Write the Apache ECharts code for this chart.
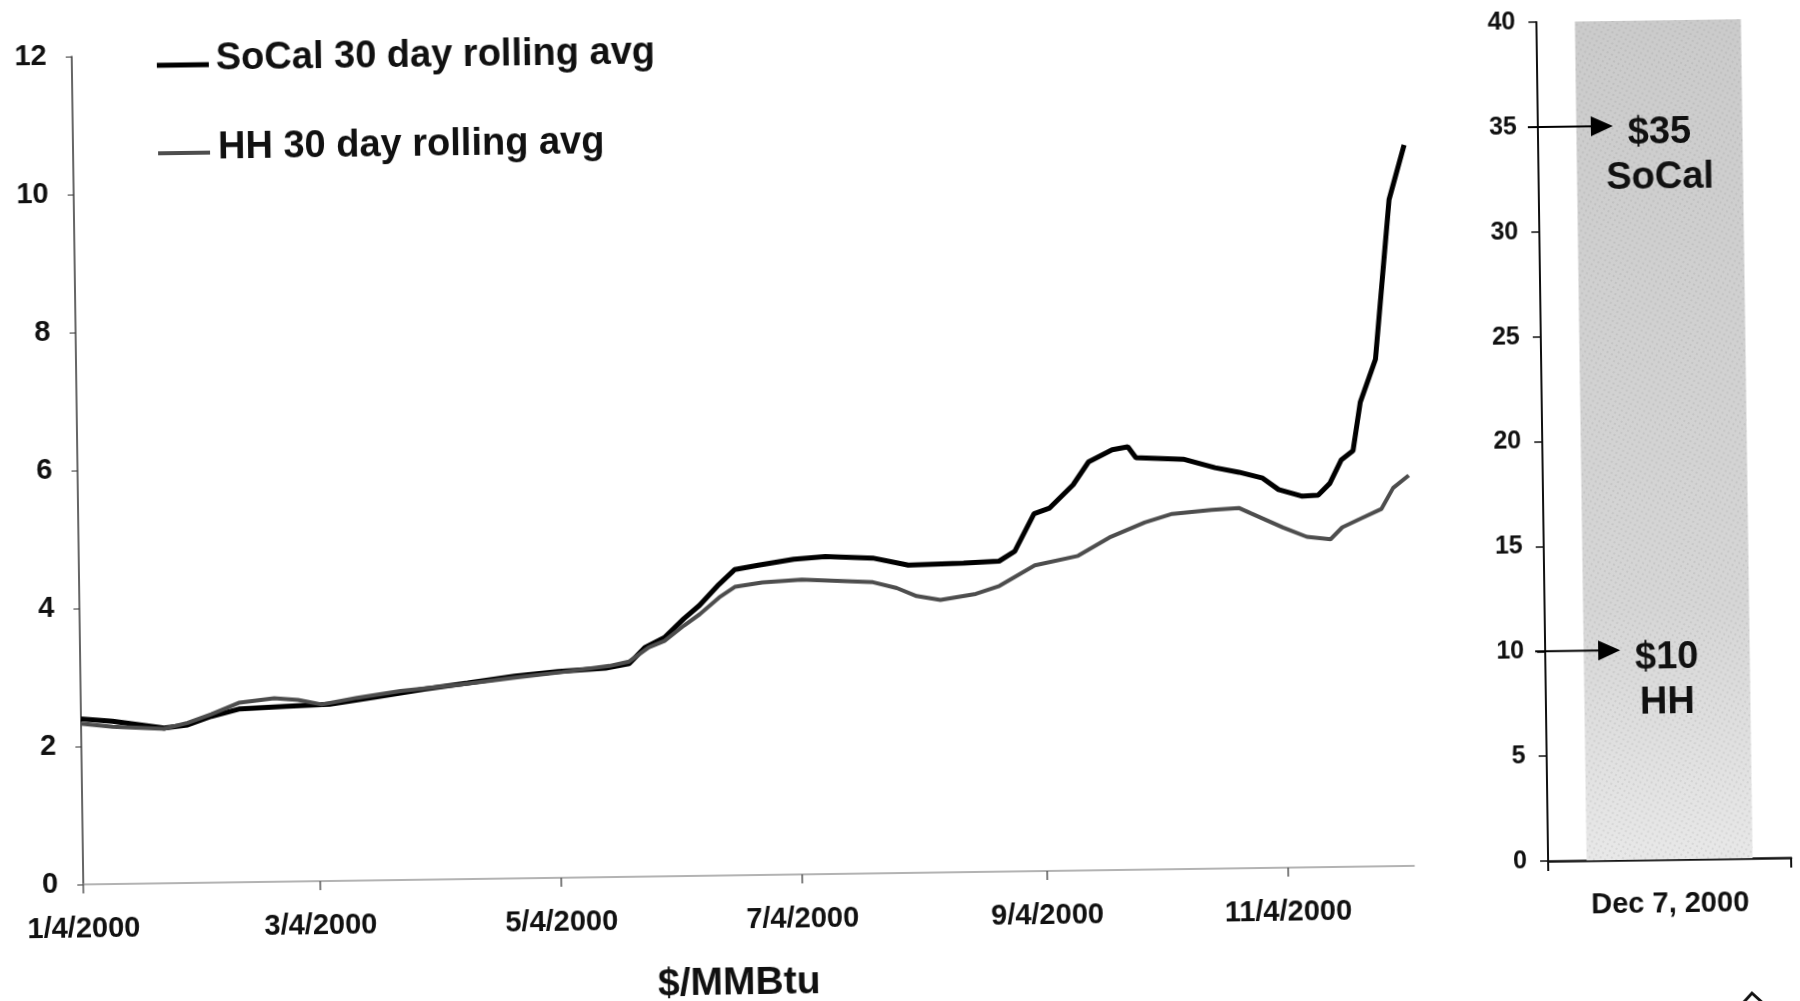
<!DOCTYPE html>
<html>
<head>
<meta charset="utf-8">
<title>SoCal vs HH 30 day rolling avg</title>
<script src="https://cdn.jsdelivr.net/npm/echarts@6/dist/echarts.min.js"></script>
<style>
  html, body { margin: 0; padding: 0; background: #fff; overflow: hidden; }
  /* the source page is a slightly tilted scan, so the whole drawing is turned a little */
  #chart {
    position: absolute; left: 0; top: 0;
    width: 1800px; height: 1030px;
    transform-origin: 900px 500px;
    transform: rotate(-0.8deg);
  }
</style>
</head>
<body>
<div id="chart"></div>
<script>
// SoCal 30 day rolling avg ($/MMBtu)
var socalDates = ['2000-01-04', '2000-01-12', '2000-01-25', '2000-01-31', '2000-02-06', '2000-02-13',
    '2000-02-25', '2000-03-07', '2000-03-19', '2000-03-31', '2000-04-11', '2000-04-23', '2000-05-04',
    '2000-05-16', '2000-05-22', '2000-05-26', '2000-05-31', '2000-06-05', '2000-06-09', '2000-06-14',
    '2000-06-18', '2000-06-24', '2000-07-03', '2000-07-11', '2000-07-23', '2000-08-01', '2000-08-15',
    '2000-08-24', '2000-08-28', '2000-09-02', '2000-09-06', '2000-09-12', '2000-09-16', '2000-09-22',
    '2000-09-26', '2000-09-28', '2000-10-10', '2000-10-18', '2000-10-24', '2000-10-30', '2000-11-03',
    '2000-11-09', '2000-11-13', '2000-11-16', '2000-11-19', '2000-11-22', '2000-11-24', '2000-11-28',
    '2000-12-02', '2000-12-06'];
var socalValues = [2.40, 2.36, 2.25, 2.29, 2.41, 2.51,
    2.54, 2.56, 2.66, 2.76, 2.84, 2.93, 2.99,
    3.03, 3.09, 3.32, 3.46, 3.73, 3.92, 4.22,
    4.43, 4.49, 4.57, 4.60, 4.57, 4.46, 4.48,
    4.50, 4.64, 5.18, 5.26, 5.59, 5.92, 6.09,
    6.13, 5.97, 5.94, 5.81, 5.74, 5.65, 5.48,
    5.38, 5.39, 5.56, 5.90, 6.03, 6.73, 7.35,
    9.66, 10.45];

// HH 30 day rolling avg ($/MMBtu)
var hhDates = ['2000-01-04', '2000-01-12', '2000-01-25', '2000-01-31', '2000-02-06', '2000-02-13',
    '2000-02-22', '2000-02-28', '2000-03-05', '2000-03-14', '2000-03-25', '2000-04-09', '2000-04-23',
    '2000-05-05', '2000-05-17', '2000-05-22', '2000-05-27', '2000-05-31', '2000-06-05', '2000-06-09',
    '2000-06-14', '2000-06-18', '2000-06-25', '2000-07-05', '2000-07-23', '2000-07-29', '2000-08-03',
    '2000-08-09', '2000-08-18', '2000-08-24', '2000-09-02', '2000-09-13', '2000-09-21', '2000-09-30',
    '2000-10-07', '2000-10-17', '2000-10-24', '2000-10-27', '2000-11-04', '2000-11-10', '2000-11-16',
    '2000-11-19', '2000-11-24', '2000-11-29', '2000-12-02', '2000-12-06'];
var hhValues = [2.33, 2.28, 2.24, 2.32, 2.44, 2.60,
    2.66, 2.63, 2.56, 2.65, 2.74, 2.82, 2.91,
    2.98, 3.06, 3.12, 3.32, 3.41, 3.63, 3.79,
    4.03, 4.18, 4.24, 4.27, 4.22, 4.13, 4.01,
    3.95, 4.03, 4.14, 4.43, 4.56, 4.82, 5.03,
    5.15, 5.20, 5.22, 5.14, 4.93, 4.79, 4.75,
    4.92, 5.05, 5.18, 5.48, 5.66];

var tickDates = ['2000-01-04', '2000-03-04', '2000-05-04', '2000-07-04', '2000-09-04', '2000-11-04'];

// right panel: single day spot
var spotCategories = ['Dec 7, 2000'];
var spotValues = [40];
var spotNotes = [
    { value: 35, price: '$35', hub: 'SoCal' },
    { value: 10, price: '$10', hub: 'HH' }
];

var FONT = '"Liberation Sans", Arial, sans-serif';

function toTime(s) {
    var p = s.split('-');
    return new Date(+p[0], +p[1] - 1, +p[2]).getTime();
}
function pairs(dates, values) {
    return dates.map(function (d, i) { return [toTime(d), values[i]]; });
}

var option = {
    animation: false,
    backgroundColor: '#fff',
    textStyle: { fontFamily: FONT },
    grid: [
        { left: 78, top: 45, width: 1331, height: 828 },
        { left: 1543, top: 31, width: 243, height: 839 }
    ],
    xAxis: [
        {
            // dates as timestamps on a plain value axis so ticks can sit on the 4th of every other month
            type: 'value',
            gridIndex: 0,
            min: toTime('2000-01-04'),
            max: toTime('2000-12-06'),
            name: '$/MMBtu',
            nameLocation: 'middle',
            nameGap: 89,
            nameTextStyle: { fontSize: 39, fontWeight: 'bold', color: '#111', fontFamily: FONT, padding: [0, 22, 0, 0] },
            axisLine: { lineStyle: { color: '#9a9a9a', width: 1.5 } },
            axisTick: {
                show: true, length: 9,
                customValues: tickDates.map(toTime),
                lineStyle: { color: '#555', width: 1.5 }
            },
            axisLabel: {
                customValues: tickDates.map(toTime),
                margin: 30,
                fontSize: 29, fontWeight: 'bold', color: '#111', fontFamily: FONT,
                formatter: function (v) {
                    var d = new Date(v);
                    return (d.getMonth() + 1) + '/' + d.getDate() + '/' + d.getFullYear();
                }
            },
            splitLine: { show: false }
        },
        {
            type: 'category',
            gridIndex: 1,
            data: spotCategories,
            axisLine: { lineStyle: { color: '#111', width: 2.5 } },
            axisTick: { show: true, length: 10, lineStyle: { color: '#111', width: 2 } },
            axisLabel: { margin: 30, fontSize: 29, fontWeight: 'bold', color: '#111', fontFamily: FONT }
        }
    ],
    yAxis: [
        {
            type: 'value',
            gridIndex: 0,
            min: 0, max: 12, interval: 2,
            axisLine: { show: true, lineStyle: { color: '#333', width: 1.5 } },
            axisTick: { show: true, length: 6, lineStyle: { color: '#333' } },
            axisLabel: { margin: 25, fontSize: 29, fontWeight: 'bold', color: '#111', fontFamily: FONT },
            splitLine: { show: false }
        },
        {
            type: 'value',
            gridIndex: 1,
            min: 0, max: 40, interval: 5,
            axisLine: { show: true, lineStyle: { color: '#111', width: 2 } },
            axisTick: { show: true, length: 8, lineStyle: { color: '#111', width: 1.5 } },
            axisLabel: { margin: 21, fontSize: 25, fontWeight: 'bold', color: '#111', fontFamily: FONT },
            splitLine: { show: false }
        }
    ],
    series: [
        {
            name: 'SoCal 30 day rolling avg',
            type: 'line',
            xAxisIndex: 0, yAxisIndex: 0,
            showSymbol: false,
            z: 3,
            lineStyle: { color: '#000', width: 5 },
            data: pairs(socalDates, socalValues)
        },
        {
            name: 'HH 30 day rolling avg',
            type: 'line',
            xAxisIndex: 0, yAxisIndex: 0,
            showSymbol: false,
            z: 4,
            lineStyle: { color: '#4d4d4d', width: 4 },
            data: pairs(hhDates, hhValues)
        },
        {
            name: 'Dec 7, 2000',
            type: 'bar',
            xAxisIndex: 1, yAxisIndex: 1,
            barWidth: 166,
            itemStyle: {
                color: {
                    type: 'linear', x: 0, y: 0, x2: 0, y2: 1,
                    colorStops: [
                        { offset: 0, color: '#cbcbcb' },
                        { offset: 0.7, color: '#d6d6d6' },
                        { offset: 1, color: '#e8e8e8' }
                    ]
                },
                decal: {
                    symbol: 'rect',
                    symbolSize: 0.5,
                    color: 'rgba(60, 60, 60, 0.4)',
                    dashArrayX: [2, 3],
                    dashArrayY: [2, 3],
                    rotation: 0.5
                }
            },
            data: spotValues
        }
    ]
};

var chart = echarts.init(document.getElementById('chart'));
chart.setOption(option);

// legend + annotations drawn as graphics, above the series
var graphics = [];
var legendRows = [
    { name: option.series[0].name, color: '#000', width: 5, lineY: 55, textX: 222, textY: 50 },
    { name: option.series[1].name, color: '#4d4d4d', width: 4, lineY: 143, textX: 223, textY: 139 }
];
legendRows.forEach(function (r) {
    graphics.push({
        type: 'rect', z: 100,
        shape: { x: 163, y: r.lineY - r.width / 2, width: 52, height: r.width },
        style: { fill: r.color }
    });
    graphics.push({
        type: 'text', z: 100, x: r.textX, y: r.textY,
        style: { text: r.name, font: 'bold 38px ' + FONT, fill: '#111', verticalAlign: 'middle' }
    });
});

var barX = chart.convertToPixel({ xAxisIndex: 1 }, spotCategories[0]);
spotNotes.forEach(function (n) {
    var y = chart.convertToPixel({ yAxisIndex: 1 }, n.value);
    graphics.push({
        type: 'line', z: 100,
        shape: { x1: 1533, y1: y, x2: 1600, y2: y },
        style: { stroke: '#000', lineWidth: 2 }
    });
    graphics.push({
        type: 'polygon', z: 100,
        shape: { points: [[1596, y - 10], [1618, y], [1596, y + 10]] },
        style: { fill: '#000' }
    });
    graphics.push({
        type: 'text', z: 100, x: barX, y: y + 8,
        style: { text: n.price, font: 'bold 38px ' + FONT, fill: '#111', align: 'center', verticalAlign: 'middle' }
    });
    graphics.push({
        type: 'text', z: 100, x: barX, y: y + 53,
        style: { text: n.hub, font: 'bold 38px ' + FONT, fill: '#111', align: 'center', verticalAlign: 'middle' }
    });
});

// stray mark at the bottom-right corner of the scan
graphics.push({
    type: 'polyline', z: 100,
    shape: { points: [[1731, 1020], [1745, 1005], [1759, 1018]] },
    style: { stroke: '#111', lineWidth: 3, fill: null }
});

chart.setOption({ graphic: graphics });
</script>
</body>
</html>
